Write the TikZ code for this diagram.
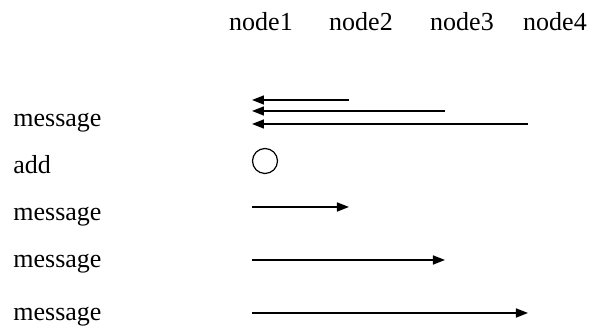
\documentclass[tikz,border=0pt]{standalone}
\usepackage{fontspec}
\setmainfont{Liberation Serif}
\usetikzlibrary{arrows.meta}

\begin{document}
\begin{tikzpicture}[x=0.5pt,y=-0.5pt,font=\fontsize{13}{15}\selectfont,
  head/.style={anchor=base,inner sep=0pt},
  lbl/.style={anchor=base west,inner sep=0pt},
  msg/.style={-{Triangle[length=6pt,width=4.5pt]},line width=0.8pt}]
\useasboundingbox (0,0) rectangle (591,335);
% lifeline headers
\node[head] (n1) at (261,31) {node1};
\node[head] (n2) at (361,31) {node2};
\node[head] (n3) at (462,31) {node3};
\node[head] (n4) at (555,31) {node4};
% where the arrows start and stop
\coordinate (l1) at (252,0);
\coordinate (l2) at (349,0);
\coordinate (l3) at (445,0);
\coordinate (l4) at (528,0);
% row labels
\node[lbl] (r1) at (13,127) {message};
\node[lbl] (r2) at (13,174) {add};
\node[lbl] (r3) at (13,221) {message};
\node[lbl] (r4) at (13,268) {message};
\node[lbl] (r5) at (13,321) {message};
% row heights of the arrows
\coordinate (y1) at (0,100);
\coordinate (y2) at (0,111);
\coordinate (y3) at (0,124);
\coordinate (y4) at (0,207);
\coordinate (y5) at (0,260);
\coordinate (y6) at (0,313);
% replies back to node1
\draw[msg] (l2 |- y1) -- (l1 |- y1);
\draw[msg] (l3 |- y2) -- (l1 |- y2);
\draw[msg] (l4 |- y3) -- (l1 |- y3);
% local step on node1
\node[draw,circle,line width=0.6pt,minimum size=12.5pt,inner sep=0pt] (add) at (265,161) {};
% node1 sends out
\draw[msg] (l1 |- y4) -- (l2 |- y4);
\draw[msg] (l1 |- y5) -- (l3 |- y5);
\draw[msg] (l1 |- y6) -- (l4 |- y6);
\end{tikzpicture}
\end{document}
